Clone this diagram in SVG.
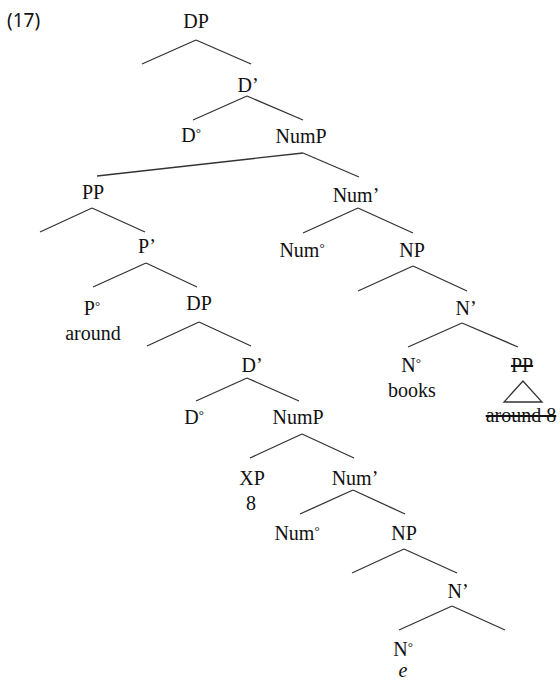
<svg xmlns="http://www.w3.org/2000/svg" width="560" height="681" viewBox="0 0 560 681">
<style>
text{font-family:"Liberation Serif","Times New Roman",serif;font-size:20px;fill:#111;text-anchor:middle}
.num{font-family:"Noto Sans","DejaVu Sans",sans-serif;font-size:19px;text-anchor:start}
.e{font-style:italic}
.dg{font-size:13px}
line,polygon{stroke:#333;stroke-width:1.3;fill:none}
</style>
<rect width="560" height="681" fill="#fff"/>
<text class="num" x="7" y="27">(17)</text>
<g id="connectors">
<line x1="196" y1="40" x2="142" y2="64"/><line x1="196" y1="40" x2="251" y2="64"/>
<line x1="247" y1="96" x2="193" y2="120"/><line x1="247" y1="96" x2="303" y2="120"/>
<line x1="303" y1="153" x2="97" y2="176"/><line x1="303" y1="153" x2="359" y2="177"/>
<line x1="92" y1="208" x2="40" y2="232"/><line x1="92" y1="208" x2="145" y2="232"/>
<line x1="146" y1="263" x2="93" y2="287"/><line x1="146" y1="263" x2="197" y2="287"/>
<line x1="199" y1="322" x2="147" y2="346"/><line x1="199" y1="322" x2="251" y2="346"/>
<line x1="358" y1="208" x2="303" y2="233"/><line x1="358" y1="208" x2="413" y2="233"/>
<line x1="413" y1="266" x2="358" y2="291"/><line x1="413" y1="266" x2="467" y2="291"/>
<line x1="462" y1="323" x2="408" y2="347"/><line x1="462" y1="323" x2="518" y2="347"/>
<polygon points="523,381 504,402 542,402"/>
<line x1="247" y1="378" x2="196" y2="401"/><line x1="247" y1="378" x2="299" y2="401"/>
<line x1="302" y1="434" x2="250" y2="458"/><line x1="302" y1="434" x2="354" y2="458"/>
<line x1="353" y1="490" x2="300" y2="514"/><line x1="353" y1="490" x2="405" y2="514"/>
<line x1="404" y1="549" x2="352" y2="573"/><line x1="404" y1="549" x2="457" y2="573"/>
<line x1="452" y1="606" x2="399" y2="630"/><line x1="452" y1="606" x2="505" y2="630"/>
</g>
<g id="n-DP"><text x="196" y="28">DP</text></g>
<g id="n-D1"><text x="248" y="92">D’</text></g>
<g id="n-D0"><text x="191" y="142">D<tspan class="dg" dy="-5">°</tspan></text></g>
<g id="n-NumP"><text x="301" y="143">NumP</text></g>
<g id="n-PP"><text x="93" y="199">PP</text></g>
<g id="n-P1"><text x="147" y="253">P’</text></g>
<g id="n-P0"><text x="92" y="315">P<tspan class="dg" dy="-5">°</tspan></text></g>
<g id="n-around"><text x="93" y="340">around</text></g>
<g id="n-DP2"><text x="199" y="310">DP</text></g>
<g id="n-Num1"><text x="356" y="202">Num’</text></g>
<g id="n-Num0"><text x="302" y="257">Num<tspan class="dg" dy="-5">°</tspan></text></g>
<g id="n-NP"><text x="412" y="257">NP</text></g>
<g id="n-N1"><text x="466" y="315">N’</text></g>
<g id="n-N0"><text x="411" y="372">N<tspan class="dg" dy="-5">°</tspan></text></g>
<g id="n-books"><text x="412" y="397">books</text></g>
<g id="n-PPs"><text x="522" y="372" text-decoration="line-through">PP</text></g>
<g id="n-around8"><text x="521" y="422" text-decoration="line-through">around 8</text></g>
<g id="n-D1b"><text x="252" y="372">D’</text></g>
<g id="n-D0b"><text x="194" y="424">D<tspan class="dg" dy="-5">°</tspan></text></g>
<g id="n-NumPb"><text x="298" y="424">NumP</text></g>
<g id="n-XP"><text x="252" y="485">XP</text></g>
<g id="n-8"><text x="251" y="510">8</text></g>
<g id="n-Num1b"><text x="355" y="485">Num’</text></g>
<g id="n-Num0b"><text x="297" y="540">Num<tspan class="dg" dy="-5">°</tspan></text></g>
<g id="n-NPb"><text x="404" y="540">NP</text></g>
<g id="n-N1b"><text x="458" y="598">N’</text></g>
<g id="n-N0b"><text x="403" y="656">N<tspan class="dg" dy="-5">°</tspan></text></g>
<g id="n-e"><text class="e" x="403" y="677">e</text></g>
</svg>
